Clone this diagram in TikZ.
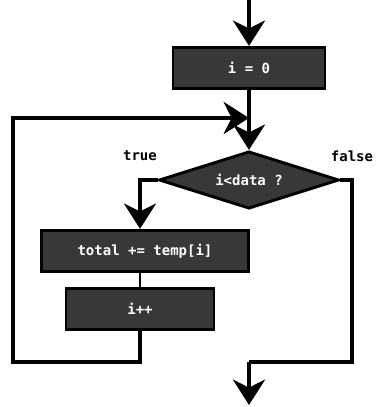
\documentclass[tikz,border=0pt]{standalone}
\usepackage{fontspec}
\setmonofont{DejaVu Sans Mono}
\usetikzlibrary{arrows.meta,shapes.geometric}
\definecolor{boxgray}{HTML}{383838}
\begin{document}
\begin{tikzpicture}[
  x=0.75pt, y=-0.75pt,
  every node/.style={font=\ttfamily\bfseries\fontsize{10.5}{12}\selectfont},
  stepbox/.style={rectangle, draw=black, line width=2.2pt, fill=boxgray, text=white, inner sep=0pt, minimum height=31pt},
  testbox/.style={diamond, draw=black, line width=2.2pt, fill=boxgray, text=white, inner sep=0pt, aspect=3, minimum width=135pt, minimum height=43pt},
  link/.style={draw, line width=3.6pt},
  flow/.style={link, -{Stealth[length=19pt, width=24pt, inset=6pt]}}
]
\useasboundingbox (0,0) rectangle (380,407);
\coordinate (start) at (249,0);
\node[stepbox, minimum width=114pt] (init) at (249,68) {i = 0};
\coordinate (join) at (249,118);
\node[testbox] (test) at (249,180) {i<data ?};
\node[stepbox, minimum width=155pt] (add) at (145,251) {total += temp[i]};
\node[stepbox, minimum width=111pt] (incr) at (140,309) {i++};
\coordinate (back) at (140,362);
\coordinate (done) at (249,362);
\coordinate (stop) at (249,405);
\node (yes) at (140,156) {true};
\node (no) at (352,156) {false};
\draw[flow] (start) -- (init);
\draw[link] (init) -- (join);
\draw[flow] (join) -- (test);
\draw[flow] (test.west) -| (add.north -| incr.north);
\draw[link, line width=2.2pt] (add.south -| incr.north) -- (incr.north);
\draw[flow] (incr) -- (back) -| (13,118) -- (join);
\draw[link] (test.east) -| (352,362) -- (done);
\draw[flow] (done) -- (stop);
\end{tikzpicture}
\end{document}
